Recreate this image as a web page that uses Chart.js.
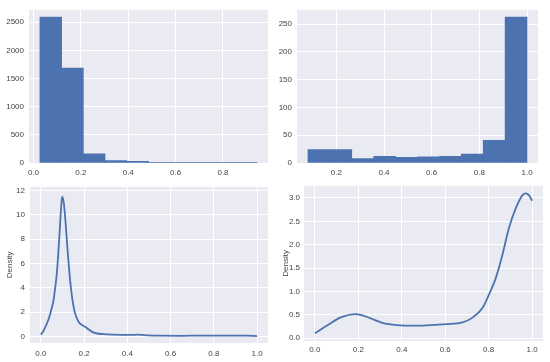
<!DOCTYPE html>
<html>
<head>
<meta charset="utf-8">
<script src="https://cdn.jsdelivr.net/npm/chart.js@4.4.0/dist/chart.umd.min.js"></script>
<style>
  html, body { margin: 0; padding: 0; background: #fff; }
  #wrap { position: relative; width: 550px; height: 362px; overflow: hidden; }
  canvas { position: absolute; }
</style>
</head>
<body>
<div id="wrap">
  <canvas id="histLeft"></canvas>
  <canvas id="histRight"></canvas>
  <canvas id="kdeLeft"></canvas>
  <canvas id="kdeRight"></canvas>
</div>
<script>
// top-left histogram (10 bins)
const hist1Start = 0.027;
const hist1Width = 0.0917;
const hist1Counts = [2592, 1685, 162, 45, 30, 6, 4, 3, 2, 3];
const hist1XTicks = [0, 0.2, 0.4, 0.6, 0.8];
const hist1YTicks = [0, 500, 1000, 1500, 2000, 2500];

// top-right histogram (10 bins)
const hist2Start = 0.081;
const hist2Width = 0.0919;
const hist2Counts = [24, 24, 8, 12, 10, 11, 12, 16, 41, 263];
const hist2XTicks = [0.2, 0.4, 0.6, 0.8, 1.0];
const hist2YTicks = [0, 50, 100, 150, 200, 250];

// bottom-left density
const kde1X = [0, 0.01, 0.02, 0.03, 0.04, 0.05, 0.058, 0.065, 0.073, 0.08, 0.086, 0.091, 0.095, 0.099,
  0.106, 0.112, 0.118, 0.124, 0.13, 0.136, 0.144, 0.152, 0.162, 0.175, 0.19, 0.205, 0.22, 0.24, 0.26,
  0.29, 0.33, 0.37, 0.41, 0.45, 0.5, 0.55, 0.65, 0.75, 0.88, 0.95, 1.0];
const kde1Y = [0.16, 0.4, 0.75, 1.15, 1.65, 2.3, 2.9, 3.8, 5.0, 6.6, 8.3, 9.8, 10.9, 11.48,
  11.0, 9.9, 8.5, 7.0, 5.7, 4.5, 3.3, 2.4, 1.7, 1.2, 0.95, 0.8, 0.6, 0.36, 0.25,
  0.2, 0.16, 0.14, 0.13, 0.16, 0.09, 0.07, 0.06, 0.08, 0.07, 0.08, 0.04];
const kde1XTicks = [0, 0.2, 0.4, 0.6, 0.8, 1.0];
const kde1YTicks = [0, 2, 4, 6, 8, 10, 12];

// bottom-right density
const kde2X = [0, 0.056, 0.117, 0.19, 0.254, 0.315, 0.391, 0.45, 0.498, 0.55, 0.604, 0.68, 0.726,
  0.772, 0.802, 0.833, 0.863, 0.893, 0.924, 0.954, 0.97, 0.985, 1.0];
const kde2Y = [0.106, 0.27, 0.44, 0.515, 0.43, 0.32, 0.275, 0.27, 0.27, 0.285, 0.30, 0.34, 0.44,
  0.65, 0.94, 1.29, 1.78, 2.35, 2.77, 3.05, 3.1, 3.06, 2.94];
const kde2XTicks = [0, 0.2, 0.4, 0.6, 0.8, 1.0];
const kde2YTicks = [0, 0.5, 1.0, 1.5, 2.0, 2.5, 3.0];

const BLUE = '#4C72B0';
const TEXT = '#444444';
const FONT = { family: '"Liberation Sans", Arial, sans-serif', size: 8 };

// seaborn-like grey plot background
const plotBg = {
  id: 'plotBg',
  beforeDraw(chart) {
    const { ctx, chartArea: a } = chart;
    ctx.save();
    ctx.fillStyle = '#EAEAF2';
    ctx.fillRect(a.left, a.top, a.right - a.left, a.bottom - a.top);
    ctx.restore();
  }
};

function binPoints(start, width, counts) {
  return counts.map((c, i) => ({ x: start + width * (i + 0.5), y: c }));
}

function linePoints(xs, ys) {
  return xs.map((x, i) => ({ x: x, y: ys[i] }));
}

// a: {min, max, ticks, digits, pad, title}
function axis(a, size, isY) {
  return {
    type: 'linear',
    min: a.min,
    max: a.max,
    offset: false,
    border: { display: false },
    grid: { color: '#ffffff', lineWidth: 1, drawTicks: false, offset: false },
    ticks: {
      padding: a.pad,
      color: TEXT,
      font: FONT,
      maxRotation: 0,
      autoSkip: false,
      callback: v => v.toFixed(a.digits)
    },
    title: a.title
      ? { display: true, text: a.title, color: TEXT, font: FONT, padding: { top: 5, bottom: 0 } }
      : { display: false },
    afterBuildTicks(scale) {
      scale.ticks = a.ticks.map(v => ({ value: v }));
    },
    afterFit(scale) {
      if (isY) scale.width = size; else scale.height = size;
    }
  };
}

// box: plot area in page pixels; yw / xh: room for axis labels
function makeChart(id, box, type, dataset, xa, ya) {
  const cv = document.getElementById(id);
  cv.width = box.yw + (box.r - box.l) + box.pr;
  cv.height = box.pt + (box.b - box.t) + box.xh;
  cv.style.left = (box.l - box.yw) + 'px';
  cv.style.top = (box.t - box.pt) + 'px';
  return new Chart(cv, {
    type: type,
    data: { datasets: [dataset] },
    options: {
      responsive: false,
      animation: false,
      devicePixelRatio: 1,
      layout: { padding: { top: box.pt, right: box.pr, left: 0, bottom: 0 } },
      plugins: { legend: { display: false }, tooltip: { enabled: false } },
      scales: {
        x: axis(xa, box.xh, false),
        y: axis(ya, box.yw, true)
      }
    },
    plugins: [plotBg]
  });
}

const barStyle = {
  backgroundColor: BLUE,
  borderWidth: 0,
  barPercentage: 1,
  categoryPercentage: 1
};

const lineStyle = {
  borderColor: BLUE,
  borderWidth: 1.8,
  pointRadius: 0,
  fill: false,
  cubicInterpolationMode: 'monotone'
};

makeChart('histLeft', { l: 29, r: 268, t: 7, b: 163, yw: 29, xh: 20, pt: 7, pr: 8 }, 'bar',
  Object.assign({ data: binPoints(hist1Start, hist1Width, hist1Counts) }, barStyle),
  { min: -0.019, max: 0.99, ticks: hist1XTicks, digits: 1, pad: 5 },
  { min: 0, max: 2722, ticks: hist1YTicks, digits: 0, pad: 5 });

makeChart('histRight', { l: 297, r: 538, t: 7, b: 163, yw: 22, xh: 20, pt: 7, pr: 8 }, 'bar',
  Object.assign({ data: binPoints(hist2Start, hist2Width, hist2Counts) }, barStyle),
  { min: 0.035, max: 1.046, ticks: hist2XTicks, digits: 1, pad: 5 },
  { min: 0, max: 276, ticks: hist2YTicks, digits: 0, pad: 5 });

makeChart('kdeLeft', { l: 30, r: 268, t: 185, b: 343, yw: 30, xh: 19, pt: 8, pr: 8 }, 'line',
  Object.assign({ data: linePoints(kde1X, kde1Y) }, lineStyle),
  { min: -0.05, max: 1.05, ticks: kde1XTicks, digits: 1, pad: 6 },
  { min: -0.53, max: 12.29, ticks: kde1YTicks, digits: 0, pad: 5, title: 'Density' });

makeChart('kdeRight', { l: 304, r: 543, t: 185, b: 341, yw: 28, xh: 21, pt: 8, pr: 7 }, 'line',
  Object.assign({ data: linePoints(kde2X, kde2Y) }, lineStyle),
  { min: -0.05, max: 1.05, ticks: kde2XTicks, digits: 1, pad: 4 },
  { min: -0.06, max: 3.26, ticks: kde2YTicks, digits: 1, pad: 4, title: 'Density' });
</script>
</body>
</html>
